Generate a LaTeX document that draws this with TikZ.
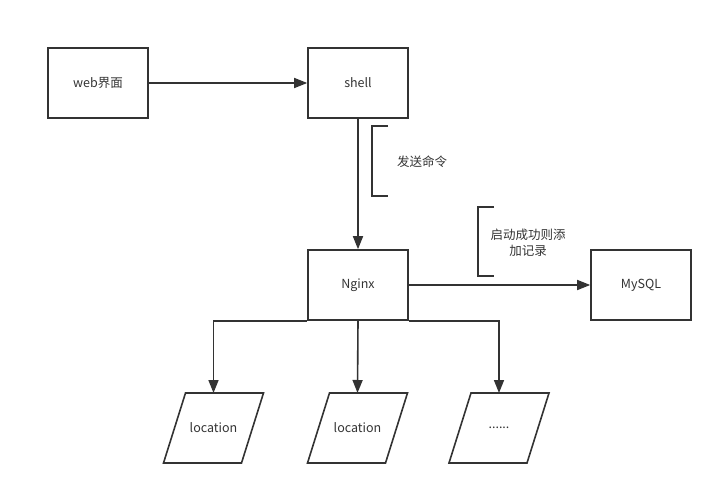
\documentclass[tikz,border=0pt]{standalone}
\usepackage{fontspec}
\setmainfont{Noto Sans CJK SC}
\usetikzlibrary{arrows.meta}
\definecolor{ink}{HTML}{333333}

\begin{document}
\begin{tikzpicture}[x=1pt,y=-1pt,>={Triangle[length=13pt,width=10pt]},
  line width=1.6pt,draw=ink,
  every node/.style={text=ink,font=\fontsize{12.5}{16}\selectfont},
  box/.style={draw=ink,rectangle,minimum width=100pt,minimum height=70pt,inner sep=0pt},
  para/.style={rectangle,minimum width=78pt,minimum height=70pt,inner sep=0pt,outer sep=0pt},
  link/.style={->,ink,line width=1.6pt}]
\useasboundingbox (0,0) rectangle (723,495);
\node[box] (web) at (98,83) {web界面};
\node[box] (shell) at (358,83) {shell};
\node[box] (nginx) at (358,285) {Nginx};
\node[box] (mysql) at (641,285) {MySQL};
\node[para] (loc1) at (213.5,428) {location};
\node[para] (loc2) at (357.5,428) {location};
\node[para] (loc3) at (499,428) {......};
% slanted outlines
\foreach \n in {loc1,loc2,loc3}
  \draw[ink,line width=1.6pt,line join=miter]
    ([xshift=-11pt]\n.south west) -- ([xshift=11pt]\n.north west)
    -- ([xshift=11pt]\n.north east) -- ([xshift=-11pt]\n.south east) -- cycle;
% arrows
\draw[link] (web) -- (shell);
\draw[link] (shell) -- (nginx);
\draw[link] (nginx) -- (mysql);
\draw[link] (nginx.south west) -| (loc1.north);
\draw[link] (nginx.south) -- (loc2.north);
\draw[link] (nginx.south east) -| (loc3.north);
% notes
\node (send) at (422,162) {发送命令};
\draw[ink,line width=1.6pt] (388,126) -- (372,126) -- (372,196) -- (388,196);
\node[align=center] (record) at (528,243) {启动成功则添\\加记录};
\draw[ink,line width=1.6pt] (494,207) -- (478,207) -- (478,276) -- (494,276);
\end{tikzpicture}
\end{document}
